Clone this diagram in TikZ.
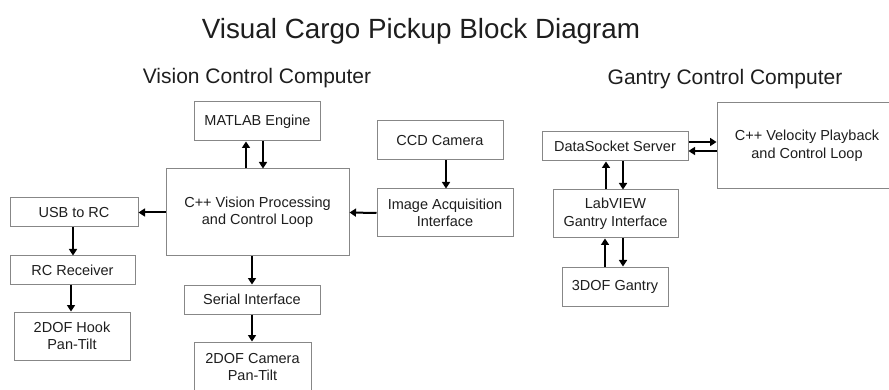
\documentclass[tikz,border=0pt]{standalone}
\usepackage{fontspec}
\setmainfont{Liberation Sans}
\usetikzlibrary{arrows.meta}
\definecolor{boxgray}{RGB}{135,135,135}
\definecolor{txt}{RGB}{30,30,30}
\tikzset{
  blk/.style={draw=boxgray, line width=1pt, fill=white, inner sep=0pt, align=center,
    text=txt, font=\fontsize{14.5}{17.5}\selectfont},
  arr/.style={draw=black, line width=2pt, -{Triangle[length=6.5pt,width=8pt]}},
  ttl/.style={text=txt, inner sep=0pt}
}
\begin{document}
\begin{tikzpicture}[x=1pt,y=-1pt]
\useasboundingbox (0,0) rectangle (889,390);
\node[ttl, font=\fontsize{27.8}{32}\selectfont] (title) at (421,31) {Visual Cargo Pickup Block Diagram};
\node[ttl, font=\fontsize{21}{25}\selectfont] (vcc) at (257,78) {Vision Control Computer};
\node[ttl, font=\fontsize{21}{25}\selectfont] (gcc) at (725,79) {Gantry Control Computer};

\node[blk, minimum width=126, minimum height=39] (matlab) at (257.5,121.5) {MATLAB Engine};
\node[blk, minimum width=183, minimum height=87] (vision) at (257.5,212.5) {C++ Vision Processing\\and Control Loop};
\node[blk, minimum width=128, minimum height=29] (usb) at (74,212.5) {USB to RC};
\node[blk, minimum width=125, minimum height=28] (rc) at (72.5,270) {RC Receiver};
\node[blk, minimum width=116, minimum height=48] (hook) at (72,336) {2DOF Hook\\Pan-Tilt};
\node[blk, minimum width=136, minimum height=29] (serial) at (252,299.5) {Serial Interface};
\node[blk, minimum width=117, minimum height=50] (camera) at (252.5,367) {2DOF Camera\\Pan-Tilt};
\node[blk, minimum width=126, minimum height=39] (ccd) at (440,140.5) {CCD Camera};
\node[blk, minimum width=136, minimum height=48] (image) at (445,213) {Image Acquisition\\Interface};
\node[blk, minimum width=146, minimum height=29] (ds) at (615,146.5) {DataSocket Server};
\node[blk, minimum width=180, minimum height=86] (vel) at (807,146) {C++ Velocity Playback\\and Control Loop};
\node[blk, minimum width=125, minimum height=48] (lab) at (615.5,214) {LabVIEW\\Gantry Interface};
\node[blk, minimum width=106, minimum height=39] (gantry) at (615,286.5) {3DOF Gantry};

\draw[arr] ([xshift=-11.5]vision.north) -- ([xshift=-11.5]matlab.south);
\draw[arr] ([xshift=5.5]matlab.south) -- ([xshift=5.5]vision.north);
\draw[arr] (vision.west) -- (usb.east);
\draw[arr] ([xshift=-1]usb.south) -- ([xshift=0.5]rc.north);
\draw[arr] ([xshift=-1.5]rc.south) -- ([xshift=-1]hook.north);
\draw[arr] ([xshift=-5.5]vision.south) -- (serial.north);
\draw[arr] (serial.south) -- ([xshift=-0.5]camera.north);
\draw[arr] ([xshift=6]ccd.south) -- ([xshift=1]image.north);
\draw[arr] (image.west) -- (vision.east);
\draw[arr] ([yshift=4.5]ds.east) -- ([yshift=4]vel.west);
\draw[arr] ([yshift=-5]vel.west) -- ([yshift=-4.5]ds.east);
\draw[arr] ([xshift=-9.5]lab.north) -- ([xshift=-9]ds.south);
\draw[arr] ([xshift=8]ds.south) -- ([xshift=7.5]lab.north);
\draw[arr] ([xshift=-10]gantry.north) -- ([xshift=-10.5]lab.south);
\draw[arr] ([xshift=7.5]lab.south) -- ([xshift=8]gantry.north);
\end{tikzpicture}
\end{document}
